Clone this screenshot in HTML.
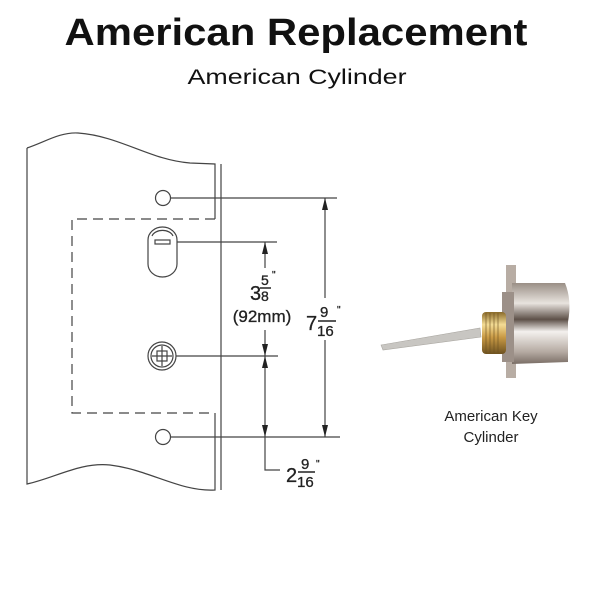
<!DOCTYPE html>
<html><head><meta charset="utf-8"><style>
html,body{margin:0;padding:0;background:#fff;width:600px;height:600px;overflow:hidden}
svg{display:block}
</style></head><body>
<svg width="600" height="600" viewBox="0 0 600 600" xmlns="http://www.w3.org/2000/svg">
<defs>
<linearGradient id="brass" x1="0" y1="0" x2="0" y2="1">
<stop offset="0" stop-color="#8a6a2a"/><stop offset="0.3" stop-color="#f3dc95"/><stop offset="0.6" stop-color="#c99a45"/><stop offset="1" stop-color="#6e5220"/></linearGradient>
<linearGradient id="silver" x1="0" y1="0" x2="0" y2="1">
<stop offset="0" stop-color="#9a8f86"/><stop offset="0.25" stop-color="#e8e3de"/><stop offset="0.45" stop-color="#5d5048"/><stop offset="0.6" stop-color="#f4f1ee"/><stop offset="0.85" stop-color="#b5aaa2"/><stop offset="1" stop-color="#7a6e66"/></linearGradient>
</defs>
<text x="296" y="45" text-anchor="middle" font-family="Liberation Sans, sans-serif" font-weight="bold" font-size="38" textLength="463" lengthAdjust="spacingAndGlyphs" fill="#111">American Replacement</text>
<text x="297" y="84" text-anchor="middle" font-family="Liberation Sans, sans-serif" font-size="21" textLength="219" lengthAdjust="spacingAndGlyphs" fill="#111">American Cylinder</text>

<g fill="none" stroke="#444" stroke-width="1.2">
<path d="M27,148 C45,142 60,132 78,133 C120,136 150,160 190,163 L215,164 L215,219"/>
<path d="M215,413 L215,490 C180,492 150,470 110,465 C80,462 55,478 27,484 L27,148"/>
<line x1="221" y1="164" x2="221" y2="490"/>
<path d="M215,219 L72,219 L72,413 L215,413" stroke-dasharray="10,6"/>
<circle cx="163" cy="198" r="7.5"/>
<circle cx="163" cy="437" r="7.5"/>
<path d="M148,240 A14.5,13 0 0 1 177,240 L177,264 A14.5,13 0 0 1 148,264 Z"/>
<path d="M152,236 A11,8 0 0 1 173,236"/>
<rect x="155" y="240" width="15" height="4"/>
<circle cx="162" cy="356" r="14"/>
<circle cx="162" cy="356" r="11"/>
<rect x="157" y="351" width="10" height="10"/>
<line x1="162" y1="346" x2="162" y2="366"/>
<line x1="152" y1="356" x2="172" y2="356"/>
<line x1="170" y1="198" x2="337" y2="198"/>
<line x1="170" y1="437" x2="340" y2="437"/>
<line x1="177" y1="242" x2="277" y2="242"/>
<line x1="176" y1="356" x2="278" y2="356"/>
<line x1="265" y1="242" x2="265" y2="268"/>
<line x1="265" y1="330" x2="265" y2="356"/>
<path d="M265,356 L265,470 L280,470"/>
<line x1="325" y1="198" x2="325" y2="298"/>
<line x1="325" y1="340" x2="325" y2="437"/>
</g>
<g fill="#222">
<path d="M265,242 l-3,12 h6z"/>
<path d="M265,356 l-3,-12 h6z"/>
<path d="M265,356 l-3,12 h6z"/>
<path d="M265,437 l-3,-12 h6z"/>
<path d="M325,198 l-3,12 h6z"/>
<path d="M325,437 l-3,-12 h6z"/>
</g>
<g font-family="Liberation Sans, sans-serif" fill="#222" stroke="#222" stroke-width="0.3">
<text x="250" y="300" font-size="20">3</text>
<text x="261" y="285" font-size="14">5</text>
<line x1="260" y1="288" x2="271" y2="288" stroke-width="1.5"/>
<text x="261" y="301" font-size="14">8</text>
<text x="272" y="278" font-size="10">"</text>
<text x="262" y="322" font-size="17" text-anchor="middle">(92mm)</text>
<text x="306" y="330" font-size="20">7</text>
<text x="320" y="317" font-size="15">9</text>
<line x1="318" y1="321" x2="336" y2="321" stroke-width="1.5"/>
<text x="317" y="336" font-size="15">16</text>
<text x="337" y="313" font-size="10">"</text>
<text x="286" y="482" font-size="20">2</text>
<text x="301" y="469" font-size="15">9</text>
<line x1="298" y1="472" x2="315" y2="472" stroke-width="1.5"/>
<text x="297" y="487" font-size="15">16</text>
<text x="316" y="467" font-size="10">"</text>
</g>

<path d="M381,345 L480,328 L481,337 L383,350 Z" fill="#c8c6c2" stroke="#a9a6a0" stroke-width="0.6"/>
<rect x="506" y="265" width="10" height="113" fill="#b8ada4"/>
<path d="M512,283 L565,283 Q572,300 568,322 L568,362 L512,364 Z" fill="url(#silver)"/>
<rect x="502" y="292" width="12" height="70" fill="#9c9088"/>
<rect x="482" y="312" width="24" height="42" rx="4" fill="url(#brass)"/>
<g stroke="#6b5020" stroke-width="0.6"><line x1="486" y1="313" x2="486" y2="353"/><line x1="490" y1="313" x2="490" y2="353"/><line x1="494" y1="313" x2="494" y2="353"/><line x1="498" y1="313" x2="498" y2="353"/></g>

<text x="491" y="421" text-anchor="middle" font-family="Liberation Sans, sans-serif" font-size="15" fill="#222">American Key</text>
<text x="491" y="442" text-anchor="middle" font-family="Liberation Sans, sans-serif" font-size="15" fill="#222">Cylinder</text>
</svg>
</body></html>
